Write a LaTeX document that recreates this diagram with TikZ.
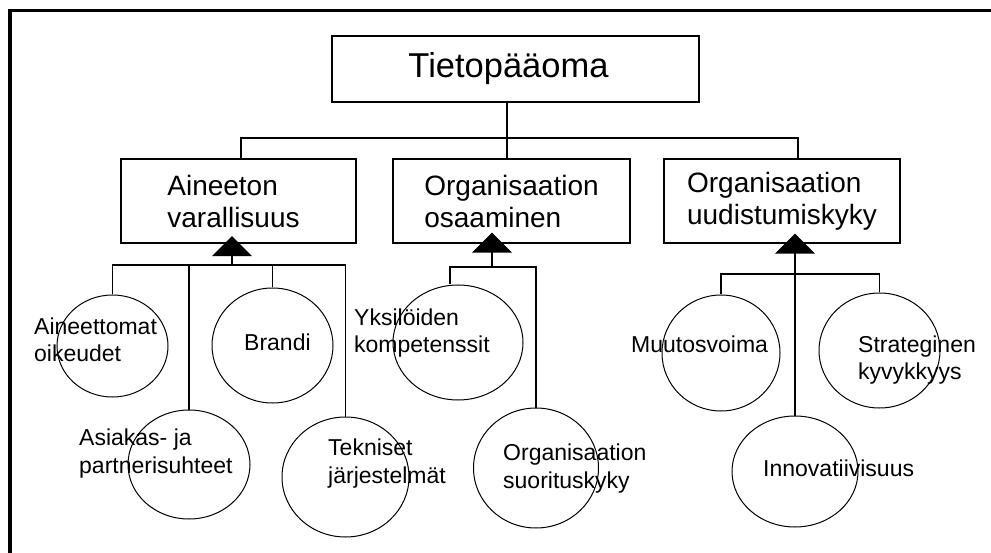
\documentclass[tikz,border=0pt]{standalone}
\usepackage{fontspec}
\setmainfont{Liberation Sans}
\usetikzlibrary{shapes.geometric,arrows.meta,calc}

\begin{document}
\begin{tikzpicture}[x=1pt,y=-1pt,
  box/.style={draw, line width=1.3pt, inner sep=0pt, align=left,
    font=\fontsize{28}{32}\selectfont},
  leaf/.style={draw, ellipse, line width=1pt, inner sep=0pt},
  % labels are placed by the baseline of their last line
  lbl/.style={inner sep=0pt, align=left, anchor=base west,
    font=\fontsize{23}{28}\selectfont},
  wire/.style={line width=1.3pt},
  lift/.style={line width=1.3pt, -{Triangle[width=40pt,length=20pt]}}
]
% page area
\useasboundingbox (0,0) rectangle (991,553);
\fill[white] (0,0) rectangle (991,553);

% frame (top and left edges)
\draw[line width=3.3pt] (991,10.5) -- (10,10.5) -- (10,553);

% root and the three main components
\node[box, minimum width=367pt, minimum height=66pt,
      font=\fontsize{34.5}{40}\selectfont] (top) at (515.5,69)
  {Tietopääoma\hspace*{14pt}};
\node[box, minimum width=235pt, minimum height=84pt] (b1) at (238.5,201)
  {Aineeton\\varallisuus\hspace*{10pt}};
\node[box, minimum width=237pt, minimum height=84pt] (b2) at (511.5,201)
  {Organisaation\\osaaminen};
\node[box, minimum width=236pt, minimum height=84pt] (b3) at (782,201)
  {Organisaation\\uudistumiskyky};

% tree from the root to the components
\coordinate (tb) at (507,138);
\draw[wire] (tb |- top.south) -- (tb);
\draw[wire] ([xshift=2.5pt]b1.north) |- (tb);
\draw[wire] ([xshift=-4.5pt]b2.north) -- (tb);
\draw[wire] ([xshift=16pt]b3.north) |- (tb);

% sub-components (circles)
\node[leaf, minimum width=111pt, minimum height=102pt] (c1) at (112.5,346) {};
\node[leaf, minimum width=121pt, minimum height=115pt] (c2) at (272.5,345.5) {};
\node[leaf, minimum width=122pt, minimum height=109pt] (c3) at (189,464.5) {};
\node[leaf, minimum width=127pt, minimum height=120pt] (c4) at (345.5,477) {};
\node[leaf, minimum width=130pt, minimum height=115pt] (c5) at (458,342.5) {};
\node[leaf, minimum width=125pt, minimum height=120pt] (c6) at (536,468) {};
\node[leaf, minimum width=118pt, minimum height=116pt] (c7) at (721,353) {};
\node[leaf, minimum width=121pt, minimum height=115pt] (c8) at (879.5,350.5) {};
\node[leaf, minimum width=126pt, minimum height=111pt] (c9) at (795,471.5) {};

% bus points under each component
\coordinate (h1) at (232,265);
\coordinate (h2) at (492,267);
\coordinate (h3) at (795,274);

% aggregation arrows into the components
\draw[lift, shorten >=-7.5pt] (h1) -- (h1 |- b1.south);
\draw[lift, shorten >=-11pt] (h2) -- (h2 |- b2.south);
\draw[lift, shorten >=-10pt] (h3) -- (h3 |- b3.south);

% circles hanging from the buses
\draw[wire] (c1.north) |- (h1);
\draw[wire] (c3.north) |- (h1);
\draw[wire] (c2.north) |- (h1);
\draw[wire] (c4.north) |- (h1);
\draw[wire] ([xshift=-8pt]c5.north) |- (h2);
\draw[wire] (c6.north) |- (h2);
\draw[wire] (c7.north) |- (h3);
\draw[wire] (c8.north) |- (h3);
\draw[wire] (c9.north) -- (h3);

% circle labels
\node[lbl] (l1) at (34,362) {Aineettomat\\oikeudet};
\node[lbl] (l2) at (244,351) {Brandi};
\node[lbl] (l3) at (79,473) {Asiakas- ja\\partnerisuhteet};
\node[lbl] (l4) at (328,483) {Tekniset\\järjestelmät};
\node[lbl] (l5) at (354,353) {Yksilöiden\\kompetenssit};
\node[lbl] (l6) at (503,488) {Organisaation\\suorituskyky};
\node[lbl] (l7) at (631,353) {Muutosvoima};
\node[lbl] (l8) at (858,380) {Strateginen\\kyvykkyys};
\node[lbl] (l9) at (763,476) {Innovatiivisuus};
\end{tikzpicture}
\end{document}
